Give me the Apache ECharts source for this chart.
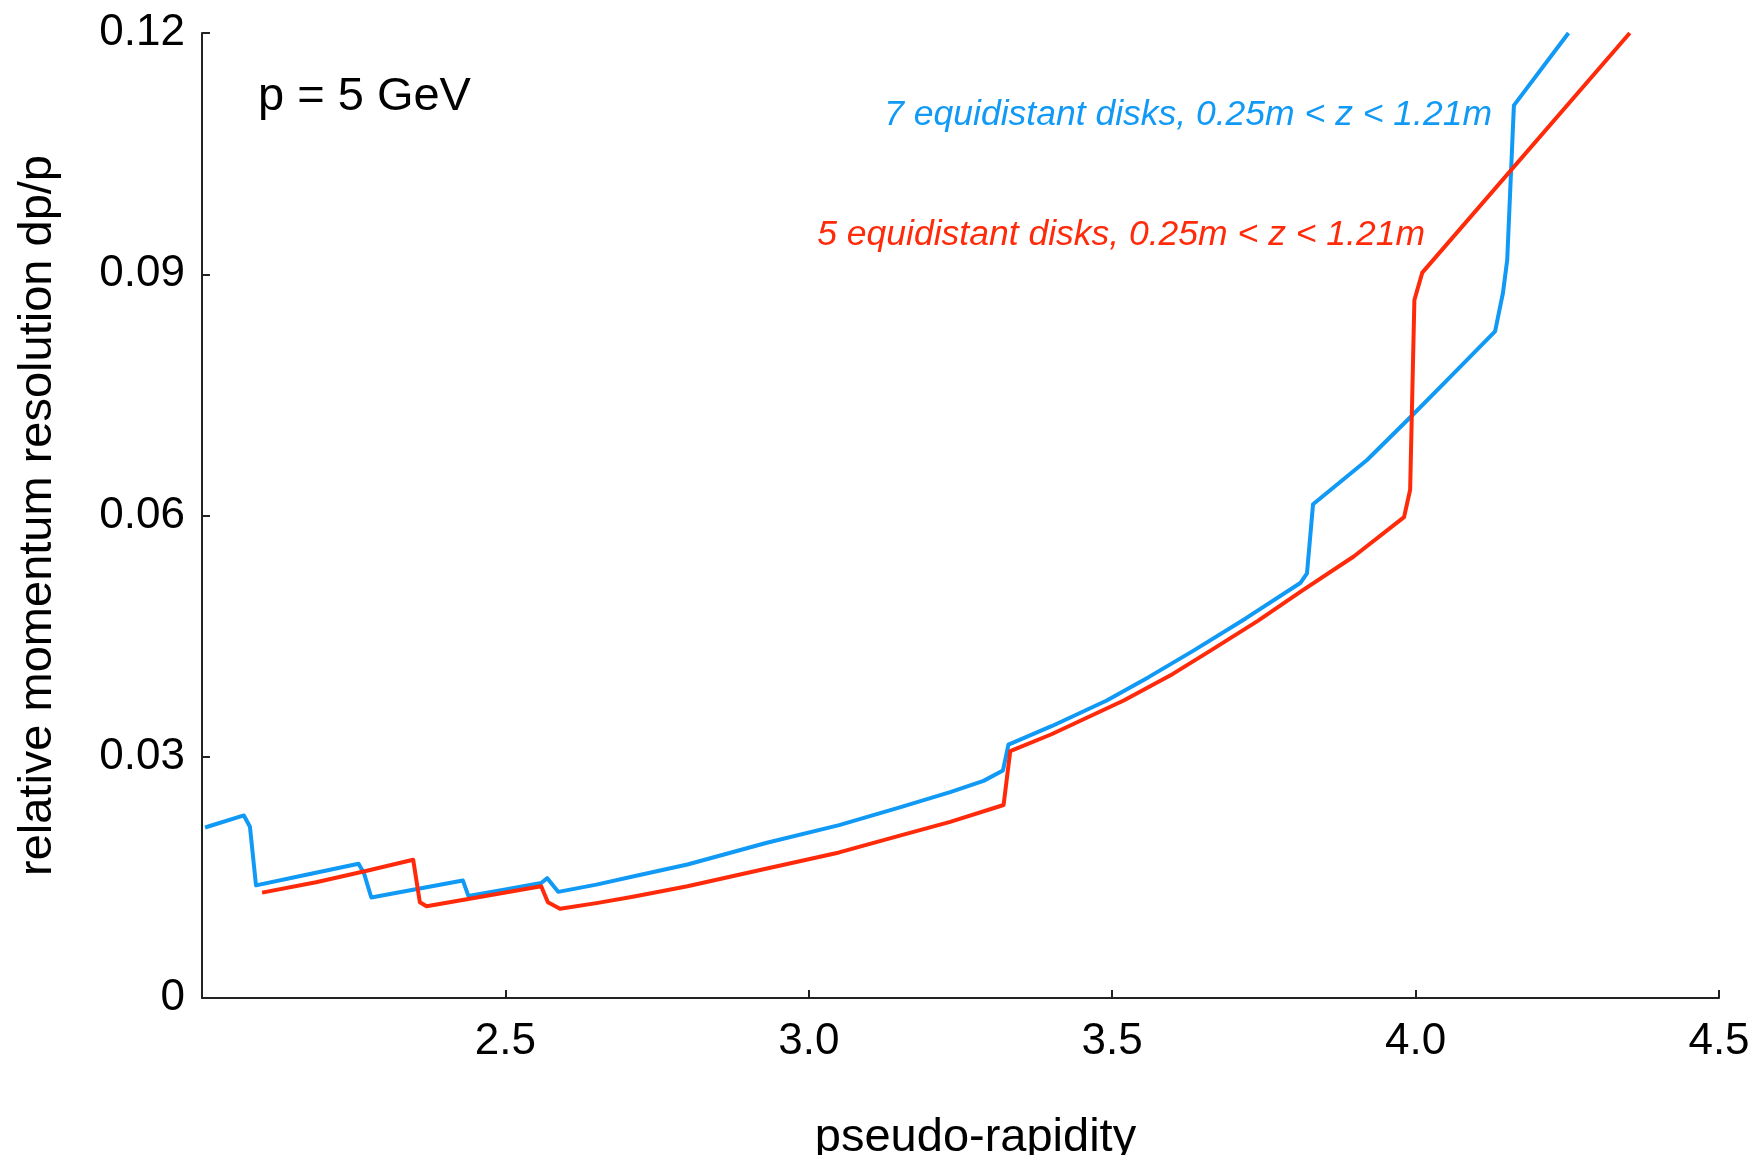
<!DOCTYPE html>
<html>
<head>
<meta charset="utf-8">
<script src="https://cdn.jsdelivr.net/npm/echarts@6/dist/echarts.min.js"></script>
<style>
html,body{margin:0;padding:0;background:#fff;}
#chart{width:1755px;height:1155px;}
</style>
</head>
<body>
<div id="chart"></div>
<script>
// Data
var blueEta = [2.005, 2.069, 2.079, 2.089, 2.17, 2.258, 2.267, 2.279, 2.35, 2.430, 2.439, 2.50, 2.559, 2.569, 2.587, 2.65, 2.71, 2.80, 2.931, 3.05, 3.15, 3.233, 3.288, 3.320, 3.329, 3.40, 3.491, 3.56, 3.634, 3.72, 3.810, 3.821, 3.831, 3.92, 3.995, 4.058, 4.131, 4.144, 4.151, 4.162, 4.252];
var blueRes = [0.0212, 0.0227, 0.0213, 0.0140, 0.0153, 0.0167, 0.0155, 0.0125, 0.0135, 0.0146, 0.0127, 0.0135, 0.0143, 0.0149, 0.0132, 0.0141, 0.0151, 0.0166, 0.0193, 0.0215, 0.0237, 0.0256, 0.0270, 0.0283, 0.0315, 0.0338, 0.0370, 0.0399, 0.0432, 0.0472, 0.0516, 0.0528, 0.0614, 0.0669, 0.0725, 0.0773, 0.0829, 0.0877, 0.0918, 0.1110, 0.1200];
var redEta = [2.099, 2.188, 2.270, 2.348, 2.359, 2.370, 2.46, 2.559, 2.570, 2.590, 2.65, 2.71, 2.80, 2.931, 3.05, 3.15, 3.233, 3.321, 3.332, 3.40, 3.519, 3.60, 3.662, 3.74, 3.810, 3.898, 3.981, 3.991, 3.998, 4.011, 4.353];
var redRes = [0.0131, 0.0144, 0.0158, 0.0172, 0.0119, 0.0114, 0.0126, 0.0139, 0.0119, 0.0111, 0.0118, 0.0126, 0.0139, 0.0161, 0.0181, 0.0202, 0.0219, 0.0240, 0.0307, 0.0328, 0.0370, 0.0403, 0.0432, 0.0469, 0.0505, 0.0549, 0.0598, 0.0632, 0.0868, 0.0902, 0.1200];
var xTicks = [2.5, 3.0, 3.5, 4.0, 4.5];
var yTicks = ['0', '0.03', '0.06', '0.09', '0.12'];
var blueName = '7 equidistant disks, 0.25m < z < 1.21m';
var redName = '5 equidistant disks, 0.25m < z < 1.21m';
var noteText = 'p = 5 GeV';

function zip(a, b){ return a.map(function(v,i){ return [v, b[i]]; }); }

var FONT = '"Liberation Sans", Arial, Helvetica, sans-serif';
var BLUE = '#1099f5';
var RED = '#ff2a0a';
var chart = echarts.init(document.getElementById('chart'), null, {renderer:'canvas'});
chart.setOption({
  animation: false,
  backgroundColor: '#fff',
  grid: {left: 202, right: 36, top: 33, bottom: 157, containLabel: false, outerBoundsMode: 'none'},
  xAxis: {
    type: 'value', min: 2, max: 4.5, interval: 0.5,
    name: 'pseudo-rapidity', nameLocation: 'middle', nameGap: 117,
    nameTextStyle: {fontFamily: FONT, fontSize: 47, color: '#000', padding: [0, 0, 0, 30]},
    axisLine: {lineStyle: {color: '#222', width: 2}},
    axisTick: {inside: true, length: 8, lineStyle: {color: '#222', width: 2}},
    axisLabel: {fontFamily: FONT, fontSize: 44, color: '#000', margin: 22,
      formatter: function(v){ return xTicks.indexOf(v) >= 0 ? v.toFixed(1) : ''; }},
    splitLine: {show: false}
  },
  yAxis: {
    type: 'value', min: 0, max: 0.12, interval: 0.03,
    name: 'relative momentum resolution dp/p', nameLocation: 'middle', nameGap: 140,
    nameTextStyle: {fontFamily: FONT, fontSize: 47, color: '#000'},
    axisLine: {show: true, lineStyle: {color: '#222', width: 2}},
    axisTick: {show: true, inside: true, length: 8, lineStyle: {color: '#222', width: 2}},
    axisLabel: {fontFamily: FONT, fontSize: 44, color: '#000', margin: 17,
      formatter: function(v){ return yTicks[Math.round(v / 0.03)]; }},
    splitLine: {show: false}
  },
  series: [
    {type: 'line', name: blueName, data: zip(blueEta, blueRes), showSymbol: false, symbol: 'none',
     lineStyle: {color: BLUE, width: 4, join: 'round'}, itemStyle: {color: BLUE}},
    {type: 'line', name: redName, data: zip(redEta, redRes), showSymbol: false, symbol: 'none',
     lineStyle: {color: RED, width: 4, join: 'round'}, itemStyle: {color: RED}}
  ],
  graphic: [
    {type: 'text', left: 258, top: 74, style: {text: noteText, font: '47px ' + FONT, fill: '#000'}},
    {type: 'text', right: 1755 - 1492, top: 97, style: {text: blueName, font: 'italic 35.5px ' + FONT, fill: BLUE}},
    {type: 'text', right: 1755 - 1425, top: 217, style: {text: redName, font: 'italic 35.5px ' + FONT, fill: RED}}
  ]
});
</script>
</body>
</html>
